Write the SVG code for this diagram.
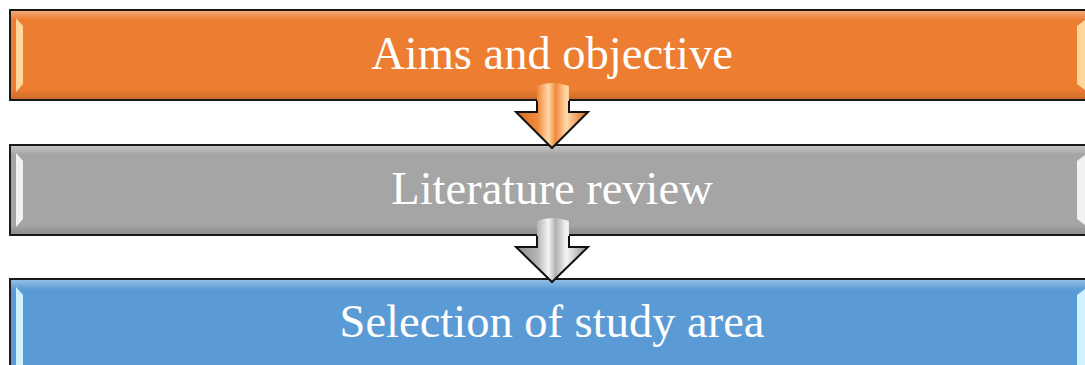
<svg xmlns="http://www.w3.org/2000/svg" width="1085" height="365" viewBox="0 0 1085 365">
<style>
.box{stroke:#1a1a1a;stroke-width:2}
.lbl{font-family:"Liberation Serif",serif;font-size:46.5px;fill:#ffffff;text-anchor:middle}
.arr{stroke:#111;stroke-width:2;stroke-linejoin:miter;fill:none}
</style>
<defs>
<linearGradient id="topSh" x1="0" y1="0" x2="0" y2="1">
<stop offset="0" stop-color="#ffffff" stop-opacity="0.35"/>
<stop offset="0.1" stop-color="#ffffff" stop-opacity="0"/>
<stop offset="0.9" stop-color="#000000" stop-opacity="0"/>
<stop offset="1" stop-color="#000000" stop-opacity="0.15"/>
</linearGradient>
<linearGradient id="arrO" x1="0" y1="0" x2="1" y2="0">
<stop offset="0" stop-color="#d86a20"/>
<stop offset="0.3" stop-color="#f08a3c"/>
<stop offset="0.45" stop-color="#ffd9a8"/>
<stop offset="0.55" stop-color="#f08a3c"/>
<stop offset="0.7" stop-color="#ffd9a8"/>
<stop offset="1" stop-color="#d86a20"/>
</linearGradient>
<linearGradient id="arrG" x1="0" y1="0" x2="1" y2="0">
<stop offset="0" stop-color="#8c8c8c"/>
<stop offset="0.3" stop-color="#b5b5b5"/>
<stop offset="0.45" stop-color="#f5f5f5"/>
<stop offset="0.55" stop-color="#b0b0b0"/>
<stop offset="0.7" stop-color="#f5f5f5"/>
<stop offset="1" stop-color="#8c8c8c"/>
</linearGradient>
</defs>
<g id="node1">
<rect class="box" x="10" y="10" width="1090" height="90" fill="#ED7D31"/>
<rect x="11" y="11" width="1088" height="88" fill="url(#topSh)"/>
<path d="M16,18 L23,26 L23,84 L16,92 Z" fill="#ffd79a"/>
<path d="M1077,26 L1085,20 L1085,90 L1077,84 Z" fill="#ffd79a"/>
<text class="lbl" x="552" y="69">Aims and objective</text>
</g>
<g id="node2">
<rect class="box" x="10" y="145" width="1090" height="90" fill="#A5A5A5"/>
<rect x="11" y="146" width="1088" height="88" fill="url(#topSh)"/>
<path d="M16,153 L23,161 L23,219 L16,227 Z" fill="#f2f2f2"/>
<path d="M1077,161 L1085,155 L1085,225 L1077,219 Z" fill="#f2f2f2"/>
<text class="lbl" x="552" y="204">Literature review</text>
</g>
<g id="node3">
<rect class="box" x="10" y="279" width="1090" height="100" fill="#5B9BD5"/>
<rect x="11" y="280" width="1088" height="98" fill="url(#topSh)"/>
<path d="M16,287 L23,295 L23,365 L16,365 Z" fill="#d0f2ff"/>
<path d="M1077,295 L1085,289 L1085,365 L1077,365 Z" fill="#d0f2ff"/>
<text class="lbl" x="552" y="337">Selection of study area</text>
</g>
<g id="connectors">
<path fill="url(#arrO)" d="M537,86 Q552,80 569,86 L569,112 L588,112 L552,148 L516,112 L537,112 Z"/>
<path class="arr" d="M537,101 L537,112 L516,112 L552,148 L588,112 L569,112 L569,101"/>
<path fill="url(#arrG)" d="M537,221 Q552,215 569,221 L569,247 L588,247 L552,282 L516,247 L537,247 Z"/>
<path class="arr" d="M537,236 L537,247 L516,247 L552,282 L588,247 L569,247 L569,236"/>
</g>
</svg>
